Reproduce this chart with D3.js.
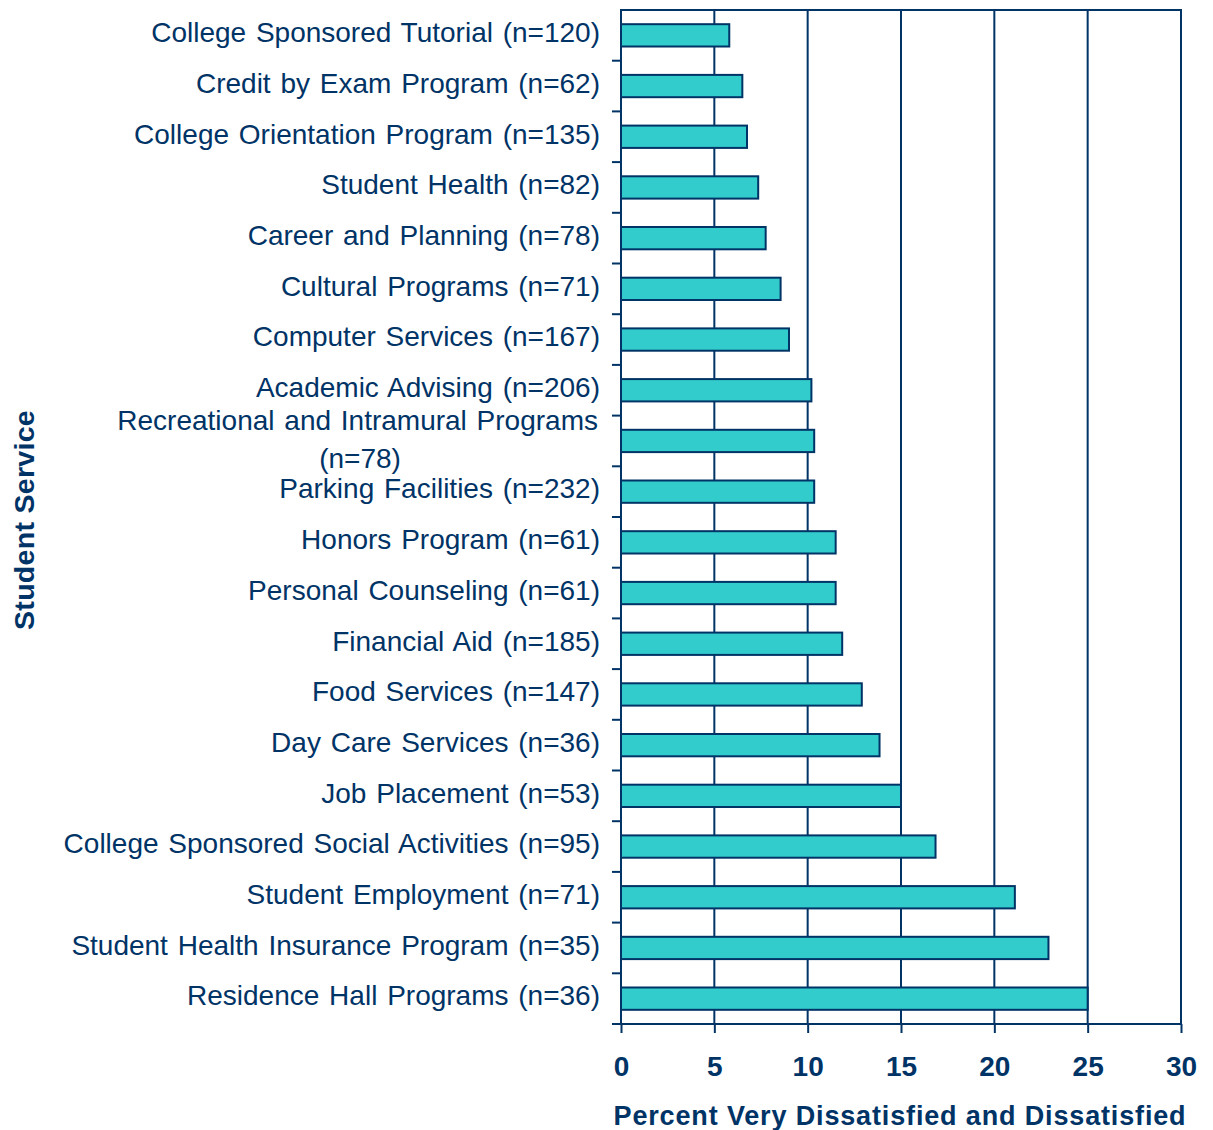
<!DOCTYPE html>
<html>
<head>
<meta charset="UTF-8">
<title>Student service dissatisfaction</title>
<script src="https://d3js.org/d3.v7.min.js"></script>
<style>
body { margin: 0; background: #fff; }
text { font-family: "Liberation Sans", Arial, sans-serif; fill: #003366; }
</style>
</head>
<body>
<figure class=chart style="margin:0"></figure>
<script type="text/javascript">

/* Data */
var services = ['College Sponsored Tutorial (n=120)', 'Credit by Exam Program (n=62)',
	'College Orientation Program (n=135)', 'Student Health (n=82)', 'Career and Planning (n=78)',
	'Cultural Programs (n=71)', 'Computer Services (n=167)', 'Academic Advising (n=206)',
	'Recreational and Intramural Programs|(n=78)', 'Parking Facilities (n=232)',
	'Honors Program (n=61)', 'Personal Counseling (n=61)', 'Financial Aid (n=185)',
	'Food Services (n=147)', 'Day Care Services (n=36)', 'Job Placement (n=53)',
	'College Sponsored Social Activities (n=95)', 'Student Employment (n=71)',
	'Student Health Insurance Program (n=35)', 'Residence Hall Programs (n=36)'];
var percent = [5.8, 6.5, 6.75, 7.35, 7.75, 8.55, 9.0, 10.2, 10.35, 10.35,
	11.5, 11.5, 11.85, 12.9, 13.85, 15.0, 16.85, 21.1, 22.9, 25.0];
var xTicks = [0, 5, 10, 15, 20, 25, 30];

/* Global variables */
var W = 1213, H = 1130
var margin = {left: 621, right: 32, top: 10, bottom: 106}
var navy = '#003366'
var x = d3.scaleLinear().domain([0, 30]).range([margin.left, W - margin.right])
var y = d3.scaleBand().domain(services).range([margin.top, H - margin.bottom]).paddingInner(0.56).paddingOuter(0.28)
var yb = d3.scaleBand().domain(services).range([margin.top, H - margin.bottom])

var svg = d3.select('figure').append('svg').attr('width', W).attr('height', H)

/* Gridlines and frame */
svg.append('g').selectAll('line').data(xTicks).enter().append('line')
	.attr('x1', function(d) { return x(d); }).attr('x2', function(d) { return x(d); })
	.attr('y1', margin.top).attr('y2', H - margin.bottom)
	.style('stroke', navy).style('stroke-width', 2)

svg.append('rect')
	.attr('x', x(0)).attr('y', margin.top)
	.attr('width', x(30) - x(0)).attr('height', H - margin.bottom - margin.top)
	.style('fill', 'none').style('stroke', navy).style('stroke-width', 2)

/* Bars */
svg.append('g').selectAll('rect').data(percent).enter().append('rect')
	.attr('x', x(0))
	.attr('y', function(d, i) { return y(services[i]); })
	.attr('width', function(d) { return x(d) - x(0); })
	.attr('height', y.bandwidth())
	.style('fill', '#33CCCC').style('stroke', navy).style('stroke-width', 2)

/* X axis */
var xAxis = svg.append('g').attr('transform', 'translate(0,' + (H - margin.bottom) + ')')
	.call(d3.axisBottom(x).tickValues(xTicks).tickSize(9).tickPadding(23))
xAxis.select('.domain').remove()
xAxis.selectAll('line').style('stroke', navy).style('stroke-width', 2)
xAxis.selectAll('text').style('font-size', '28px').style('font-weight', 'bold')
	.style('font-family', '"Liberation Sans", Arial, sans-serif').style('fill', navy)

/* Y ticks at category boundaries */
svg.append('g').selectAll('line').data(services).enter().append('line')
	.attr('x1', margin.left - 9).attr('x2', margin.left)
	.attr('y1', function(d) { return yb(d) + yb.bandwidth(); })
	.attr('y2', function(d) { return yb(d) + yb.bandwidth(); })
	.style('stroke', navy).style('stroke-width', 2)

/* Category labels */
svg.append('g').selectAll('text').data(services).enter().append('text')
	.attr('x', 600)
	.attr('y', function(d) { return yb(d) + yb.bandwidth() / 2 - 3; })
	.attr('text-anchor', 'end')
	.style('font-size', '28px').style('word-spacing', '2px')
	.each(function(d) {
		var lines = d.split('|')
		var t = d3.select(this)
		if (lines.length == 1) {
			t.attr('dy', '0.35em').text(d)
		} else {
			t.append('tspan').attr('x', 598).attr('dy', '-0.28em').text(lines[0])
			t.append('tspan').attr('x', 360).attr('text-anchor', 'middle').attr('dy', '1.35em').text(lines[1])
		}
	})

/* Axis titles */
svg.append('text')
	.attr('x', (x(0) + x(30)) / 2 - 1).attr('y', 1125)
	.attr('text-anchor', 'middle')
	.style('font-size', '27px').style('font-weight', 'bold').style('letter-spacing', '0.85px')
	.text('Percent Very Dissatisfied and Dissatisfied')

svg.append('text')
	.attr('transform', 'translate(34,' + ((margin.top + H - margin.bottom) / 2 + 3) + ') rotate(-90)')
	.attr('text-anchor', 'middle')
	.style('font-size', '28.5px').style('font-weight', 'bold').style('letter-spacing', '0.3px')
	.text('Student Service')

</script>
</body>
</html>
